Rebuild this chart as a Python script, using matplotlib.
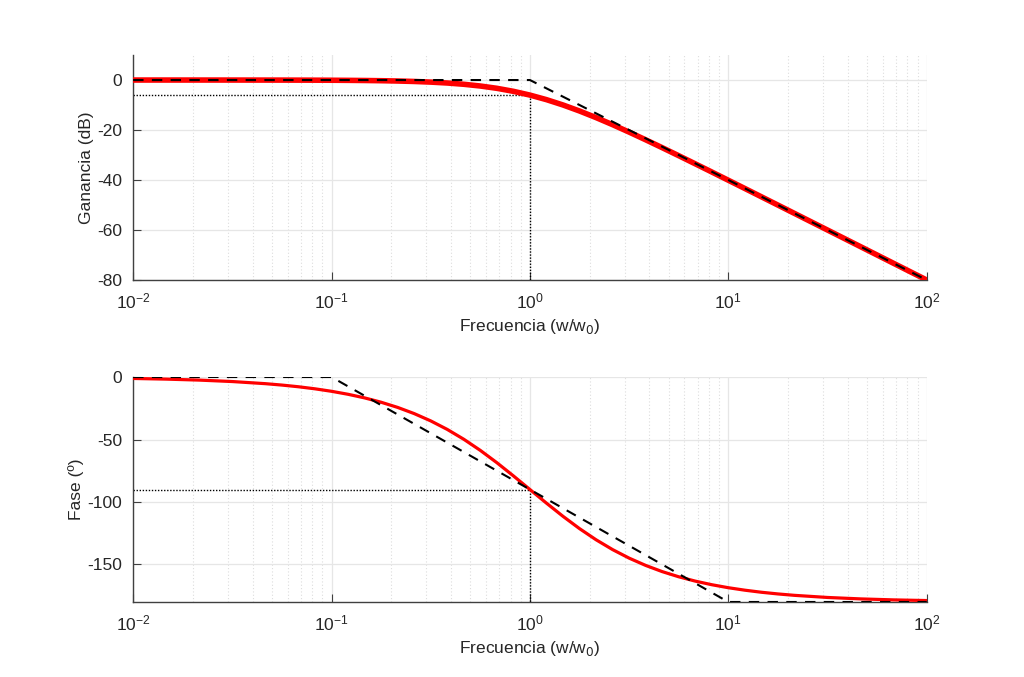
import matplotlib
matplotlib.use("Agg")
import matplotlib.pyplot as plt

plt.rcParams["font.family"] = ["Liberation Sans", "DejaVu Sans"]
plt.rcParams["axes.unicode_minus"] = False

# frequencies (w/w0)
freq = [0.01, 0.01468, 0.02154, 0.03162, 0.04642, 0.05623, 0.06813, 0.08254,
        0.1, 0.1212, 0.1468, 0.1778, 0.2154, 0.2610, 0.3162, 0.3831,
        0.4642, 0.5623, 0.6813, 0.8254, 1.0, 1.2115, 1.468, 1.7783,
        2.154, 2.6102, 3.162, 3.8312, 4.642, 5.6234, 6.813, 8.254,
        10.0, 12.115, 14.68, 17.783, 21.54, 31.62, 46.42, 68.13, 100.0]

gain_db = [0.0, -0.002, -0.004, -0.009, -0.019, -0.027, -0.04, -0.059,
           -0.086, -0.127, -0.185, -0.270, -0.394, -0.572, -0.828, -1.190,
           -1.694, -2.387, -3.31, -4.513, -6.02, -7.846, -9.98, -12.387,
           -15.03, -17.856, -20.83, -23.906, -27.06, -30.27, -33.52, -36.79,
           -40.09, -43.39, -46.71, -50.03, -53.35, -60.01, -66.67, -73.34, -80.0]

phase_deg = [-1.15, -1.68, -2.47, -3.62, -5.32, -6.44, -7.79, -9.44,
             -11.42, -13.82, -16.70, -20.17, -24.31, -29.26, -35.10, -41.92,
             -49.80, -58.70, -68.54, -79.09, -90.0, -100.91, -111.46, -121.30,
             -130.20, -138.08, -144.90, -150.74, -155.69, -159.83, -163.30, -166.18,
             -168.58, -170.56, -172.21, -173.56, -174.68, -176.38, -177.53, -178.32, -178.85]

# asymptotic approximations
gain_asym_f = [0.01, 1.0, 100.0]
gain_asym = [0.0, 0.0, -80.0]
phase_asym_f = [0.01, 0.1, 10.0, 100.0]
phase_asym = [0.0, 0.0, -180.0, -180.0]

# guides at the corner frequency
w_c = 1.0
gain_c = -6.0
phase_c = -90.0

fig = plt.figure(figsize=(10.24, 6.77), dpi=100)
ax1 = fig.add_axes([0.130, 0.5864, 0.775, 0.3323])
ax2 = fig.add_axes([0.130, 0.1108, 0.775, 0.3323])

grey = "#404040"
dot = (0, (1, 1.2))


def style(ax, ylim, yticks, ylabel):
    ax.set_xscale("log")
    ax.set_xlim(0.01, 100)
    ax.set_ylim(*ylim)
    ax.set_yticks(yticks)
    ax.grid(True, which="major", color="#e6e6e6", lw=0.9, ls="-")
    ax.grid(True, which="minor", color="#dddddd", lw=0.8, ls=(0, (1, 2)))
    ax.set_axisbelow(True)
    for s in ("top", "right"):
        ax.spines[s].set_visible(False)
    for s in ("left", "bottom"):
        ax.spines[s].set_color(grey)
        ax.spines[s].set_linewidth(1.0)
    ax.tick_params(which="major", direction="in", length=6, colors=grey,
                   labelsize=12.5, labelcolor="#262626", pad=8)
    ax.tick_params(which="minor", length=0)
    ax.set_xlabel("Frecuencia (w/w$_0$)", fontsize=12.5, color="#262626")
    ax.set_ylabel(ylabel, fontsize=12.5, color="#262626", labelpad=2)


ax1.plot(freq, gain_db, color="red", lw=4, solid_capstyle="round",
         solid_joinstyle="round", zorder=3)
ax1.plot(gain_asym_f, gain_asym, color="black", lw=1.5, ls=(0, (5, 4)), zorder=4)
ax1.plot([0.01, w_c], [gain_c, gain_c], color="black", lw=1, ls=dot, zorder=2)
ax1.plot([w_c, w_c], [gain_c, -80], color="black", lw=1, ls=dot, zorder=2)
style(ax1, (-80, 10), [-80, -60, -40, -20, 0], "Ganancia (dB)")

ax2.plot(freq, phase_deg, color="red", lw=2.3, solid_joinstyle="round", zorder=3)
ax2.plot(phase_asym_f, phase_asym, color="black", lw=1.5, ls=(0, (5, 4)), zorder=4)
ax2.plot([0.01, w_c], [phase_c, phase_c], color="black", lw=1, ls=dot, zorder=2)
ax2.plot([w_c, w_c], [phase_c, -180], color="black", lw=1, ls=dot, zorder=2)
style(ax2, (-180, 0), [-150, -100, -50, 0], "Fase (º)")

fig.savefig("out.png", dpi=100)
